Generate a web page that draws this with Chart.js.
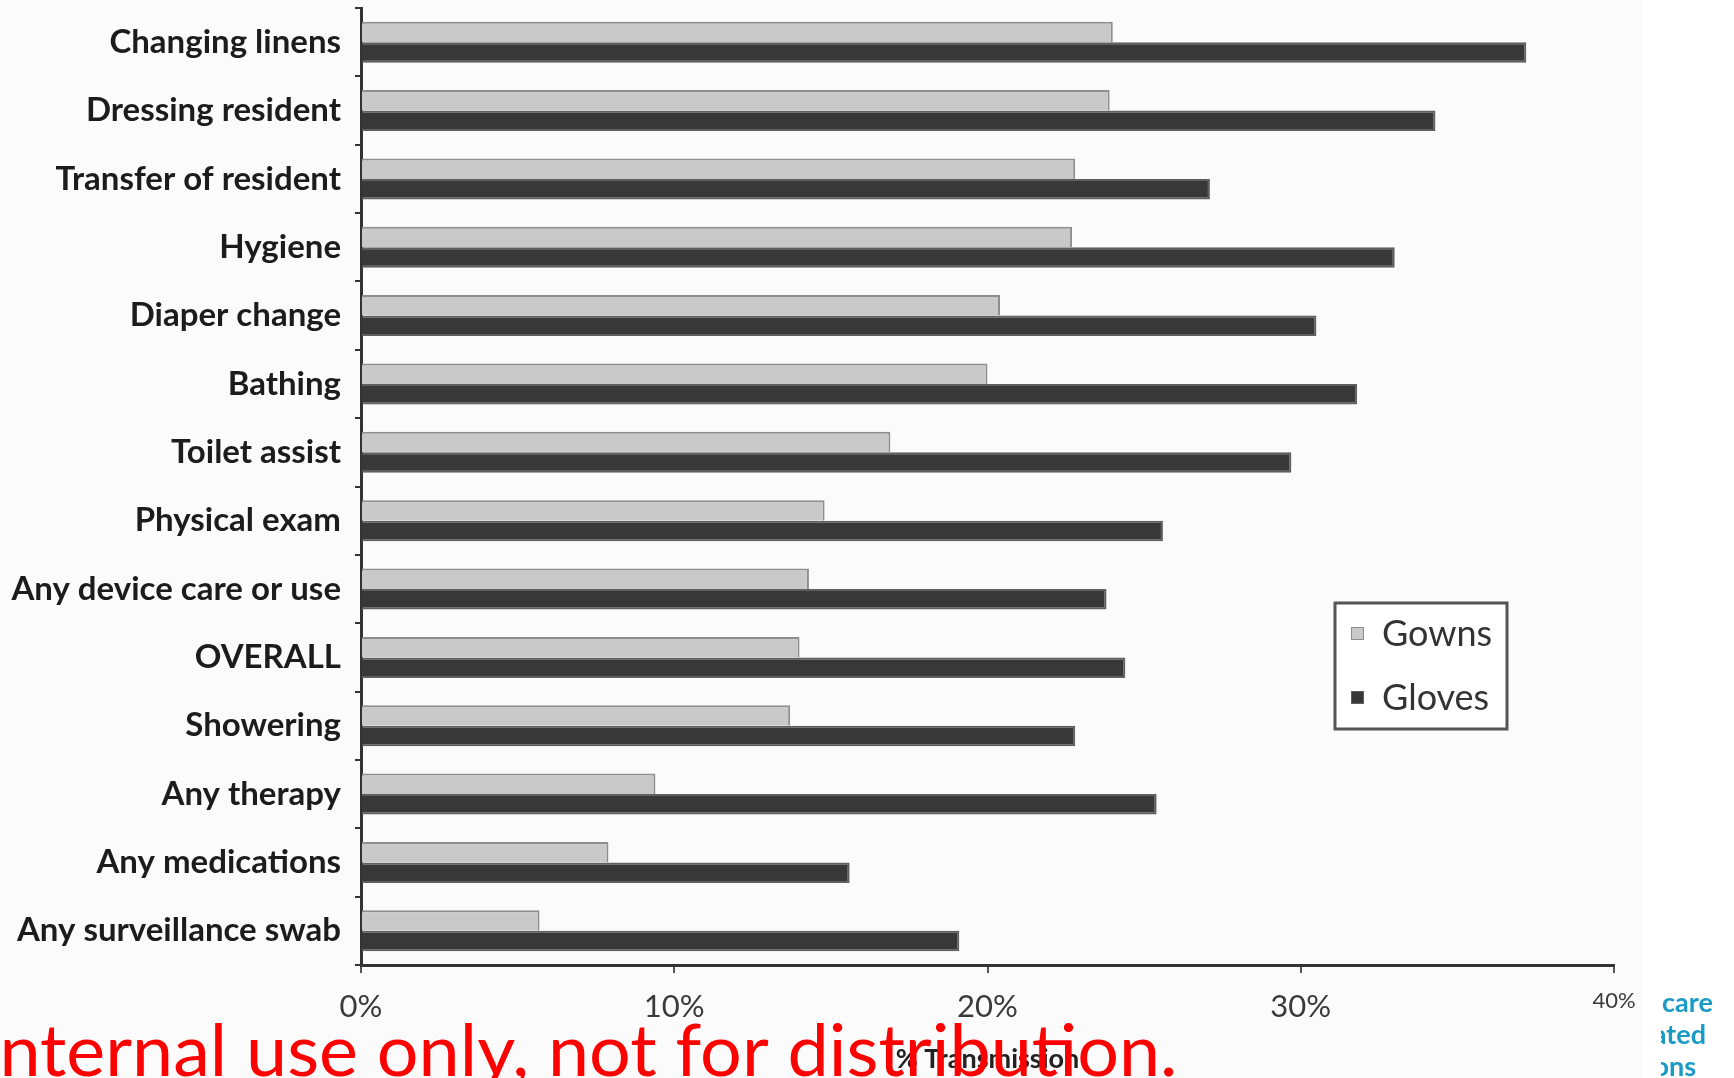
<!DOCTYPE html>
<html>
<head>
<meta charset="utf-8">
<script src="https://cdn.jsdelivr.net/npm/chart.js@4.4.0/dist/chart.umd.min.js"></script>
<style>
  html, body { margin: 0; padding: 0; background: #fff; overflow: hidden; }
  #wrap { width: 1734px; height: 1078px; position: relative; }
</style>
</head>
<body>
<div id="wrap"><canvas id="c" width="1734" height="1078"></canvas></div>
<script>
// Activities observed during resident care
const categories = [
  'Changing linens', 'Dressing resident', 'Transfer of resident', 'Hygiene',
  'Diaper change', 'Bathing', 'Toilet assist', 'Physical exam',
  'Any device care or use', 'OVERALL', 'Showering', 'Any therapy',
  'Any medications', 'Any surveillance swab'
];

// % transmission to gowns and gloves
const gowns  = [24.0, 23.9, 22.8, 22.7, 20.4, 20.0, 16.9, 14.8, 14.3, 14.0, 13.7, 9.4, 7.9, 5.7];
const gloves = [37.2, 34.3, 27.1, 33.0, 30.5, 31.8, 29.7, 25.6, 23.8, 24.4, 22.8, 25.4, 15.6, 19.1];

const seriesNames = ['Gowns', 'Gloves'];
const xTickValues = [0, 10, 20, 30, 40];
const xTitle = '% Transmission';
const notice = 'Internal use only, not for distribution.';
const sideLines = ['care', 'ated', 'ons'];

const gownFill = '#c9c9c9', gownEdge = '#8e8e8e';
const gloveFill = '#383838', gloveEdge = '#5f5f5f';

// page backdrop behind the figure
const backdrop = {
  id: 'backdrop',
  beforeDraw(chart) {
    const ctx = chart.ctx;
    ctx.save();
    ctx.fillStyle = '#ffffff';
    ctx.fillRect(0, 0, chart.width, chart.height);
    ctx.fillStyle = '#fbfbfb';
    ctx.fillRect(0, 0, 1642, chart.height);
    ctx.restore();
  }
};

// boxed legend inside the plot
const boxLegend = {
  id: 'boxLegend',
  afterDatasetsDraw(chart) {
    const ctx = chart.ctx;
    ctx.save();
    ctx.fillStyle = '#ffffff';
    ctx.fillRect(1335, 603, 172, 126);
    ctx.strokeStyle = '#555555';
    ctx.lineWidth = 3;
    ctx.strokeRect(1335, 603, 172, 126);
    const rows = [633, 697];
    chart.data.datasets.forEach((ds, i) => {
      const y = rows[i];
      ctx.fillStyle = ds.backgroundColor;
      ctx.fillRect(1351, y - 6, 13, 13);
      ctx.strokeStyle = ds.borderColor;
      ctx.lineWidth = 1;
      ctx.strokeRect(1351.5, y - 5.5, 12, 12);
      ctx.fillStyle = '#333333';
      ctx.font = '36px Lato';
      ctx.textBaseline = 'middle';
      ctx.textAlign = 'left';
      ctx.fillText(ds.label, 1382, y + 1);
    });
    ctx.restore();
  }
};

// red notice across the bottom and the cyan fragments at the right
const overlayText = {
  id: 'overlayText',
  afterDraw(chart) {
    const ctx = chart.ctx;
    ctx.save();
    ctx.font = '72px Lato';
    const rest = ctx.measureText(notice.slice(1)).width;
    const first = ctx.measureText(notice.slice(0, 1)).width;
    const sx = 1178 / rest;
    ctx.translate(0, 1076);
    ctx.scale(sx, 1);
    ctx.fillStyle = '#ff0000';
    ctx.textBaseline = 'alphabetic';
    ctx.textAlign = 'left';
    ctx.fillText(notice, -first, 0);
    ctx.restore();

    ctx.save();
    ctx.beginPath();
    ctx.rect(1661, 960, 80, 130);
    ctx.clip();
    ctx.fillStyle = '#1a9bc6';
    ctx.font = 'bold 27px Lato';
    ctx.textBaseline = 'middle';
    ctx.textAlign = 'left';
    ctx.fillText(sideLines[0], 1662, 1003);
    ctx.textAlign = 'right';
    ctx.fillText(sideLines[1], 1706, 1035);
    ctx.fillText(sideLines[2], 1696, 1067);
    ctx.restore();
  }
};

new Chart(document.getElementById('c'), {
  type: 'bar',
  data: {
    labels: categories,
    datasets: [
      {
        label: seriesNames[0],
        data: gowns,
        backgroundColor: gownFill,
        borderColor: gownEdge,
        borderWidth: { top: 2, right: 2, bottom: 0, left: 0 },
        borderSkipped: 'start'
      },
      {
        label: seriesNames[1],
        data: gloves,
        backgroundColor: gloveFill,
        borderColor: gloveEdge,
        borderWidth: { top: 2, right: 2, bottom: 2, left: 0 },
        borderSkipped: 'start'
      }
    ]
  },
  options: {
    indexAxis: 'y',
    responsive: false,
    devicePixelRatio: 1,
    animation: false,
    categoryPercentage: 0.6,
    barPercentage: 1.0,
    layout: { padding: { top: 8, right: 120, left: 0, bottom: 0 } },
    plugins: {
      legend: { display: false },
      tooltip: { enabled: false }
    },
    scales: {
      x: {
        type: 'linear',
        min: 0,
        max: 40,
        afterBuildTicks(scale) {
          scale.ticks = xTickValues.map(v => ({ value: v }));
        },
        afterFit(scale) { scale.height = 113; },
        border: { display: true, color: '#333333', width: 3 },
        grid: { drawOnChartArea: false, drawTicks: true, tickLength: 8, color: '#555555', lineWidth: 2 },
        ticks: {
          padding: 15,
          color: '#3a3a3a',
          maxRotation: 0,
          font: (c) => (c.tick && c.tick.value === 40)
            ? { family: 'Lato', size: 22 }
            : { family: 'Lato', size: 31 },
          callback: (v) => v + '%'
        },
        title: {
          display: true,
          text: xTitle,
          color: '#222222',
          font: { family: 'Lato', size: 27, weight: 'bold' },
          padding: { top: 0, bottom: 3 }
        }
      },
      y: {
        type: 'category',
        afterFit(scale) {
          scale.width = 361;
          scale.paddingTop = 0;
          scale.paddingBottom = 0;
        },
        border: { display: true, color: '#333333', width: 3 },
        grid: { drawOnChartArea: false, drawTicks: true, tickLength: 6, color: '#333333', lineWidth: 2, offset: true },
        ticks: {
          padding: 14,
          color: '#1c1c1c',
          font: { family: 'Lato', size: 33, weight: 'bold' },
          autoSkip: false
        }
      }
    }
  },
  plugins: [backdrop, boxLegend, overlayText]
});
</script>
</body>
</html>
